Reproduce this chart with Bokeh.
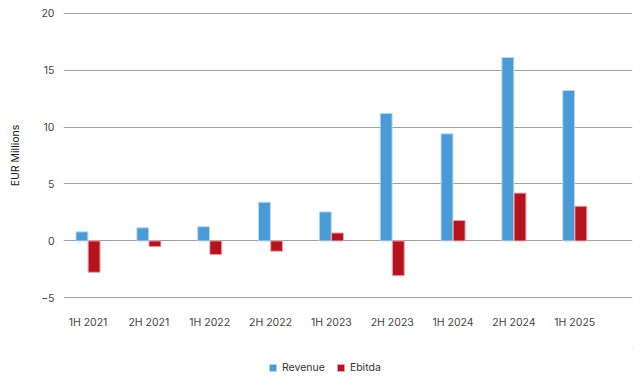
from bokeh.plotting import figure
from bokeh.layouts import column
from bokeh.models import ColumnDataSource, FixedTicker, Legend, LegendItem, Range1d
from bokeh.embed import file_html
from bokeh.resources import INLINE

periods = ["1H 2021", "2H 2021", "1H 2022", "2H 2022", "1H 2023", "2H 2023", "1H 2024", "2H 2024", "1H 2025"]
revenue = [0.8, 1.15, 1.25, 3.4, 2.55, 11.2, 9.4, 16.1, 13.2]
ebitda = [-2.75, -0.5, -1.2, -0.9, 0.7, -3.05, 1.8, 4.2, 3.05]
y_ticks = [-5, 0, 5, 10, 15, 20]

REV_COLOR, REV_EDGE = "#4a9ad6", "#b9d8f0"
EBI_COLOR, EBI_EDGE = "#b5141f", "#e6a5aa"
FONT_SIZE = "10.5px"

idx = list(range(len(periods)))
src = ColumnDataSource(dict(
    xr=[i - 0.1 for i in idx], xe=[i + 0.1 for i in idx],
    rev=revenue, ebi=ebitda))

p = figure(width=636, height=348, output_backend="svg", toolbar_location=None,
           x_range=Range1d(-0.403, 8.949), y_range=Range1d(-5.05, 20.05),
           min_border_left=63, min_border_right=4, min_border_top=12, min_border_bottom=50)
p.outline_line_color = None

p.vbar(x="xr", top="rev", bottom=0, width=0.195, source=src,
       fill_color=REV_COLOR, line_color=REV_EDGE, line_width=1)
p.vbar(x="xe", top="ebi", bottom=0, width=0.195, source=src,
       fill_color=EBI_COLOR, line_color=EBI_EDGE, line_width=1)

p.xaxis.ticker = FixedTicker(ticks=idx)
p.xaxis.major_label_overrides = {i: s for i, s in enumerate(periods)}
p.yaxis.ticker = FixedTicker(ticks=y_ticks)
for ax in (p.xaxis[0], p.yaxis[0]):
    ax.axis_line_color = None
    ax.major_tick_line_color = None
    ax.minor_tick_line_color = None
    ax.major_label_text_font = "Inter"
    ax.major_label_text_font_size = FONT_SIZE
    ax.major_label_text_color = "#444444"
p.xaxis.major_label_standoff = 11
p.yaxis.major_label_standoff = 3
p.yaxis.axis_label = "EUR Millions"
p.yaxis.axis_label_text_font = "Inter"
p.yaxis.axis_label_text_font_style = "normal"
p.yaxis.axis_label_text_font_size = FONT_SIZE
p.yaxis.axis_label_text_color = "#222222"
p.yaxis.axis_label_standoff = 16

p.xgrid.grid_line_color = None
p.ygrid.ticker = FixedTicker(ticks=y_ticks)
p.ygrid.grid_line_color = "#a0a0a0"
p.ygrid.grid_line_width = 1

# legend strip below the chart
leg = figure(width=636, height=30, output_backend="svg", toolbar_location=None,
             x_range=Range1d(0, 1), y_range=Range1d(0, 1),
             x_axis_location=None, y_axis_location=None,
             min_border_left=0, min_border_right=0, min_border_top=0, min_border_bottom=0)
leg.outline_line_color = None
leg.xgrid.visible = False
leg.ygrid.visible = False
offscreen = ColumnDataSource(dict(x=[5.0], top=[5.0]))
lr1 = leg.vbar(x="x", top="top", bottom=4.5, width=0.1, source=offscreen,
               fill_color=REV_COLOR, line_color=REV_EDGE, line_width=1)
lr2 = leg.vbar(x="x", top="top", bottom=4.5, width=0.1, source=offscreen,
               fill_color=EBI_COLOR, line_color=EBI_EDGE, line_width=1)
legend = Legend(items=[LegendItem(label="Revenue", renderers=[lr1]),
                       LegendItem(label="Ebitda", renderers=[lr2])],
                orientation="horizontal", location=(205, 4),
                border_line_color=None, background_fill_alpha=0,
                glyph_width=9, glyph_height=9, spacing=11, label_standoff=5,
                label_text_font="Inter", label_text_font_size=FONT_SIZE,
                label_text_color="#333333", padding=0, margin=0)
leg.add_layout(legend, "center")

layout = column(p, leg, spacing=0)
open("out.html", "w").write(file_html(layout, INLINE))
